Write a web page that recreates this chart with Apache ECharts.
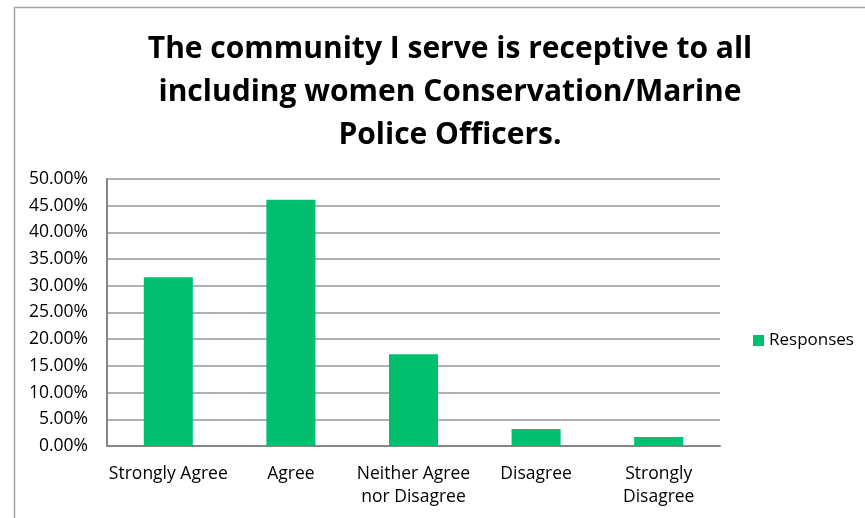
<!DOCTYPE html>
<html>
<head>
<meta charset="utf-8">
<script src="https://cdn.jsdelivr.net/npm/echarts@6/dist/echarts.min.js"></script>
<style>
  html, body { margin: 0; padding: 0; background: #ffffff; }
  #chart { width: 865px; height: 518px; }
</style>
</head>
<body>
<div id="chart"></div>
<script>
// Survey response shares per answer
const categories = ['Strongly Agree', 'Agree', 'Neither Agree\nnor Disagree', 'Disagree', 'Strongly\nDisagree'];
const responses = [31.6, 46.1, 17.2, 3.2, 1.7];
const seriesName = 'Responses';
const titleText = 'The community I serve is receptive to all\nincluding women Conservation/Marine\nPolice Officers.';

const FONT = '"Open Sans", Lato, sans-serif';
const chart = echarts.init(document.getElementById('chart'), null, { renderer: 'canvas' });

chart.setOption({
  backgroundColor: '#ffffff',
  animation: false,
  title: {
    text: titleText,
    left: 445,
    top: 23,
    textAlign: 'center',
    textStyle: {
      fontFamily: FONT,
      fontWeight: 'bold',
      fontSize: 30,
      lineHeight: 43,
      color: '#000000'
    }
  },
  legend: {
    data: [seriesName],
    left: 753,
    top: 332,
    padding: 0,
    orient: 'vertical',
    icon: 'rect',
    itemWidth: 11,
    itemHeight: 11,
    itemGap: 4,
    textStyle: { fontFamily: FONT, fontSize: 17, color: '#000000' }
  },
  grid: { left: 107, right: 145, top: 179, bottom: 72, containLabel: false },
  xAxis: {
    type: 'category',
    data: categories,
    axisLine: { show: true, lineStyle: { color: '#868686', width: 2 } },
    axisTick: { show: false },
    axisLabel: {
      fontFamily: FONT,
      fontSize: 17.5,
      color: '#000000',
      margin: 17,
      lineHeight: 23,
      interval: 0
    }
  },
  yAxis: {
    type: 'value',
    min: 0,
    max: 50,
    interval: 5,
    axisLine: { show: true, lineStyle: { color: '#868686', width: 2 } },
    axisTick: { show: false },
    splitLine: { lineStyle: { color: '#979797', width: 1.5 } },
    axisLabel: {
      fontFamily: FONT,
      fontSize: 17.5,
      color: '#000000',
      margin: 19,
      formatter: v => v.toFixed(2) + '%'
    }
  },
  series: [{
    name: seriesName,
    type: 'bar',
    data: responses,
    barWidth: '40%',
    itemStyle: { color: '#00bf6f' }
  }],
  graphic: [{
    type: 'rect',
    silent: true,
    shape: { x: 14.5, y: 7.5, width: 900, height: 600 },
    style: { fill: 'none', stroke: '#a5a5a5', lineWidth: 1.5 }
  }]
});
</script>
</body>
</html>
